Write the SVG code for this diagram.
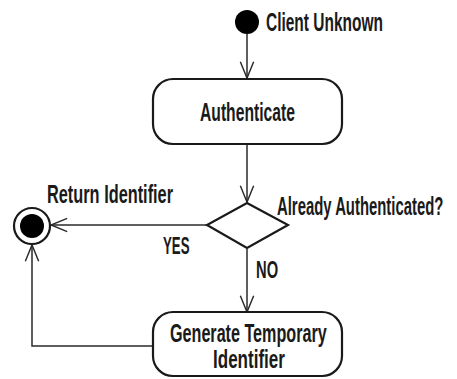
<svg xmlns="http://www.w3.org/2000/svg" width="457" height="379" viewBox="0 0 457 379">
<style>
  text { font-family: "Liberation Sans", Arial, sans-serif; font-size: 25px; font-weight: bold; fill: #1a1a1a; }
  .box { fill: #fff; stroke: #1a1a1a; stroke-width: 2.2; }
  .edge { fill: none; stroke: #2a2a2a; stroke-width: 1.5; }
</style>
<defs>
  <marker id="open" markerUnits="userSpaceOnUse" markerWidth="20" markerHeight="20" viewBox="-19 -10 21 20" refX="0" refY="0" orient="auto" overflow="visible">
    <path d="M-17,-7 L0,0 L-17,7" fill="none" stroke="#2a2a2a" stroke-width="1.5"/>
  </marker>
</defs>
<rect width="457" height="379" fill="#fff"/>
<g id="edges">
  <path class="edge" d="M247,34 L247,78" marker-end="url(#open)"/>
  <path class="edge" d="M247,144 L247,202" marker-end="url(#open)"/>
  <path class="edge" d="M207,225 L51,225" marker-end="url(#open)"/>
  <path class="edge" d="M247,249 L247,312" marker-end="url(#open)"/>
  <path class="edge" d="M153,346 L32,346 L32,245" marker-end="url(#open)"/>
  <text transform="translate(163,254) scale(0.53,0.92)">YES</text>
  <text transform="translate(256,278) scale(0.59,0.92)">NO</text>
</g>
<g id="start">
  <circle cx="247" cy="22" r="12" fill="#000"/>
  <text transform="translate(266,31) scale(0.619,1)">Client Unknown</text>
</g>
<g id="authenticate">
  <rect class="box" x="153" y="79" width="189" height="65" rx="20"/>
  <text transform="translate(200,121) scale(0.627,1)">Authenticate</text>
</g>
<g id="decision">
  <path class="box" d="M247,203 L288,225 L247,248 L207,225 Z"/>
  <text transform="translate(277,215) scale(0.595,1)">Already Authenticated?</text>
</g>
<g id="generate">
  <rect class="box" x="153" y="312" width="189" height="64" rx="20"/>
  <text transform="translate(170,342) scale(0.646,1)">Generate Temporary</text>
  <text transform="translate(213,368) scale(0.682,1)">Identifier</text>
</g>
<g id="end">
  <circle cx="32" cy="226" r="18" fill="#fff" stroke="#1a1a1a" stroke-width="2.2"/>
  <circle cx="32" cy="226" r="12" fill="#000"/>
  <text transform="translate(47,203) scale(0.653,1)">Return Identifier</text>
</g>
</svg>
